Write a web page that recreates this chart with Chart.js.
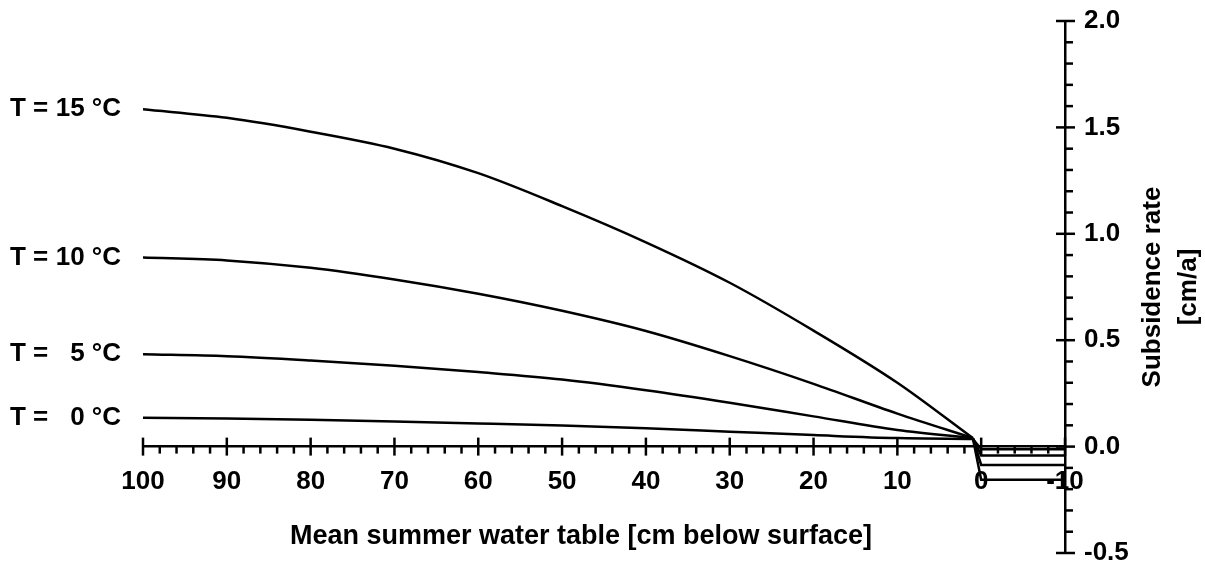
<!DOCTYPE html>
<html>
<head>
<meta charset="utf-8">
<script src="https://cdn.jsdelivr.net/npm/chart.js@4.4.0/dist/chart.umd.min.js"></script>
<style>
html,body{margin:0;padding:0;background:#fff;}
#wrap{width:1205px;height:565px;position:relative;}
canvas{display:block;}
</style>
</head>
<body>
<div id="wrap"><canvas id="c" width="1205" height="565"></canvas></div>
<script>
// ---- data ----
const waterTable = [100, 90, 80, 70, 60, 50, 40, 30, 20, 10, 1, 0, -10];
const rateT15 = [1.585, 1.545, 1.48, 1.40, 1.285, 1.13, 0.96, 0.77, 0.545, 0.30, 0.04, -0.156, -0.156];
const rateT10 = [0.889, 0.875, 0.840, 0.785, 0.718, 0.638, 0.543, 0.425, 0.295, 0.155, 0.04, -0.086, -0.086];
const rateT5  = [0.434, 0.425, 0.405, 0.380, 0.350, 0.315, 0.265, 0.206, 0.142, 0.078, 0.04, -0.042, -0.042];
const rateT0  = [0.136, 0.132, 0.126, 0.118, 0.109, 0.099, 0.086, 0.070, 0.054, 0.040, 0.036, -0.012, -0.012];
const temperatures = [15, 10, 5, 0];
const xTickValues = [100, 90, 80, 70, 60, 50, 40, 30, 20, 10, 0, -10];
const yTickValues = [-0.5, 0.0, 0.5, 1.0, 1.5, 2.0];
const xTitle = 'Mean summer water table [cm below surface]';
const yTitle = ['Subsidence rate', '[cm/a]'];

const FONT = '"Liberation Sans", Arial, Helvetica, sans-serif';
const FS = 26;
const seriesRates = [rateT15, rateT10, rateT5, rateT0];
const kinkIndex = waterTable.indexOf(1);

// smooth part (water table below surface) and straight tail (at / above surface)
const curveSets = seriesRates.map((arr, i) => ({
  label: 'T = ' + temperatures[i] + ' °C',
  data: waterTable.slice(0, kinkIndex + 1).map((x, j) => ({x: x, y: arr[j]})),
  borderColor: '#000',
  borderWidth: 2.5,
  pointRadius: 0,
  fill: false,
  cubicInterpolationMode: 'monotone'
}));
const tailSets = seriesRates.map((arr, i) => ({
  label: 'tail ' + temperatures[i],
  data: waterTable.slice(kinkIndex).map((x, j) => ({x: x, y: arr[kinkIndex + j]})),
  borderColor: '#000',
  borderWidth: 2.5,
  pointRadius: 0,
  fill: false,
  tension: 0
}));

const decoPlugin = {
  id: 'deco',
  afterDraw(chart) {
    const ctx = chart.ctx;
    const xs = chart.scales.x, ys = chart.scales.y;
    const y0 = ys.getPixelForValue(0);
    const ax = ys.left;
    ctx.save();
    ctx.strokeStyle = '#000';
    ctx.lineCap = 'butt';
    ctx.lineWidth = 2.5;
    // x-axis tick marks
    for (let v = -10; v <= 100; v += 2) {
      const px = xs.getPixelForValue(v);
      const major = (v % 10 === 0);
      ctx.beginPath();
      ctx.moveTo(px, major ? y0 - 9 : y0);
      ctx.lineTo(px, major ? y0 + 9 : y0 + 7);
      ctx.stroke();
    }
    // y-axis tick marks
    for (let k = -5; k <= 20; k++) {
      const py = ys.getPixelForValue(k / 10);
      const major = (k % 5 === 0);
      ctx.beginPath();
      ctx.moveTo(major ? ax - 9 : ax, py);
      ctx.lineTo(major ? ax + 10 : ax + 8, py);
      ctx.stroke();
    }
    // curve labels on the left
    ctx.fillStyle = '#000';
    ctx.font = 'bold ' + FS + 'px ' + FONT;
    ctx.textBaseline = 'middle';
    for (let i = 0; i < temperatures.length; i++) {
      const meta = chart.getDatasetMeta(i);
      const py = meta.data[0].y;
      ctx.textAlign = 'left';
      ctx.fillText('T =', 10, py);
      ctx.textAlign = 'right';
      ctx.fillText(temperatures[i] + ' °C', 121, py);
    }
    // x-axis title
    ctx.textAlign = 'center';
    ctx.font = 'bold 27px ' + FONT;
    ctx.fillText(xTitle, 581, 537);
    // y-axis title (rotated, reading upwards)
    ctx.font = 'bold ' + FS + 'px ' + FONT;
    ctx.translate(1153, (ys.top + ys.bottom) / 2);
    ctx.rotate(-Math.PI / 2);
    ctx.fillText(yTitle[0], 0, 0);
    ctx.fillText(yTitle[1], 0, 36);
    ctx.restore();
  }
};

new Chart(document.getElementById('c'), {
  type: 'line',
  data: { datasets: curveSets.concat(tailSets) },
  options: {
    responsive: false,
    animation: false,
    events: [],
    layout: { padding: { left: 143, top: 21, right: 0, bottom: 12 } },
    plugins: { legend: { display: false }, tooltip: { enabled: false } },
    scales: {
      x: {
        type: 'linear',
        position: { y: 0 },
        reverse: true,
        min: -10,
        max: 100,
        grid: { display: false, drawTicks: false },
        border: { display: true, color: '#000', width: 2.5 },
        afterBuildTicks: s => { s.ticks = xTickValues.map(v => ({ value: v })); },
        afterFit: s => { s.height = 0; s.paddingLeft = 0; s.paddingRight = 0; },
        ticks: {
          autoSkip: false,
          maxRotation: 0,
          minRotation: 0,
          padding: 20,
          color: '#000',
          font: { family: FONT, size: FS, weight: 'bold' },
          callback: v => String(v)
        }
      },
      y: {
        type: 'linear',
        position: 'right',
        min: -0.5,
        max: 2.0,
        grid: { display: false, drawTicks: false },
        border: { display: true, color: '#000', width: 2.5 },
        afterBuildTicks: s => { s.ticks = yTickValues.map(v => ({ value: v })); },
        afterFit: s => { s.width = 140; s.paddingTop = 0; s.paddingBottom = 0; },
        ticks: {
          padding: 19,
          color: '#000',
          font: { family: FONT, size: FS, weight: 'bold' },
          callback: v => Number(v).toFixed(1)
        }
      }
    }
  },
  plugins: [decoPlugin]
});
</script>
</body>
</html>
